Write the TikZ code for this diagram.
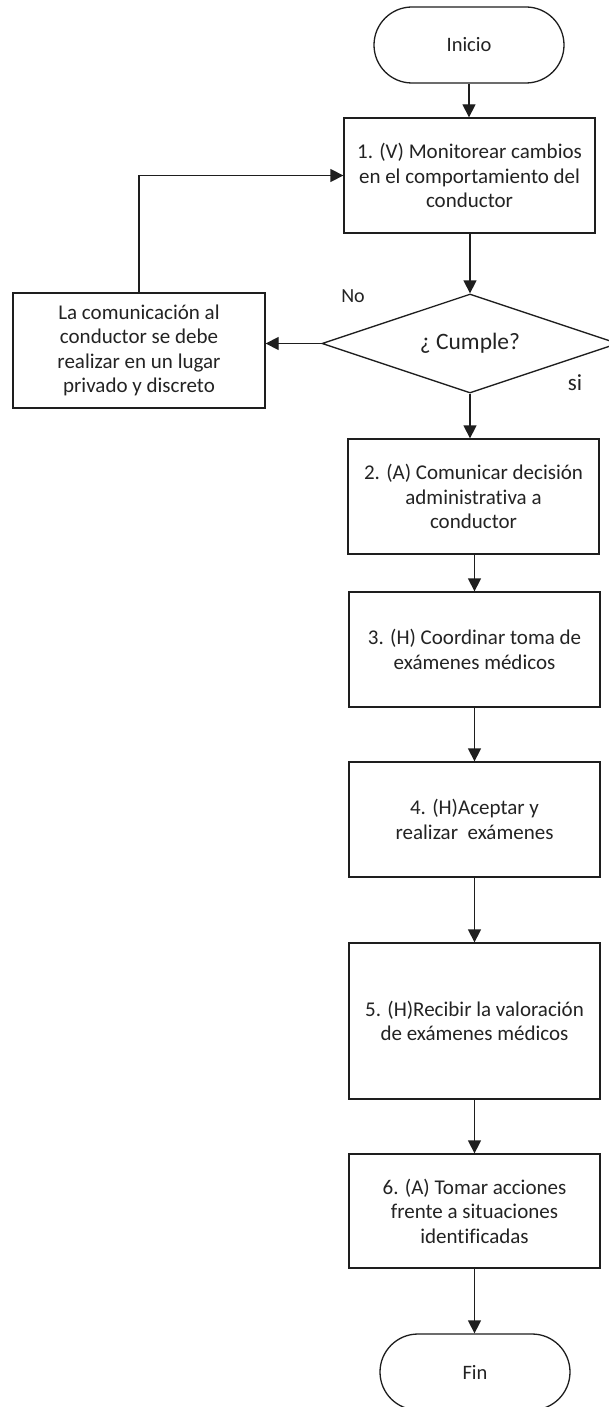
\documentclass[tikz,border=0pt]{standalone}
\usepackage{fontspec}
\setmainfont{Carlito}[Ligatures=NoCommon]
\usetikzlibrary{arrows.meta,shapes.geometric}
\definecolor{ln}{RGB}{30,30,30}
\definecolor{txt}{RGB}{35,35,35}
\begin{document}
\begin{tikzpicture}[x=1pt,y=-1pt,
  every node/.style={text=txt},
  proc/.style={draw=ln, line width=1.3pt, rectangle, minimum width=251pt, minimum height=115pt, align=center, inner sep=0pt, font=\fontsize{21}{24.5}\selectfont},
  term/.style={draw=ln, line width=1.3pt, rectangle, rounded corners=38pt, minimum width=190pt, minimum height=76pt, inner sep=0pt, font=\fontsize{20.5}{24}\selectfont},
  decis/.style={draw=ln, line width=1.3pt, diamond, aspect=3, minimum width=296pt, minimum height=99pt, inner sep=0pt, font=\fontsize{23.5}{27}\selectfont},
  lbl/.style={inner sep=0pt, font=\fontsize{20}{24}\selectfont},
  arr/.style={draw=ln, line width=1.3pt, -{Triangle[length=13pt,width=13pt]}}]
\fill[white] (0,0) rectangle (608,1407);
\useasboundingbox (0,0) rectangle (608,1407);

\node[term] (inicio) at (469,45) {Inicio};
\node[proc] (b1) at (469.5,175.5) {1. (V) Monitorear cambios\\en el comportamiento del\\conductor};
\node[decis] (dec) at (470,343.5) {¿ Cumple?};
\node[proc, minimum width=252pt] (lb) at (139,350.5) {La comunicación al\\conductor se debe\\realizar en un lugar\\privado y discreto};
\node[proc] (b2) at (473.5,496.5) {2. (A) Comunicar decisión\\administrativa a\\conductor};
\node[proc] (b3) at (474.5,649.5) {3. (H) Coordinar toma de\\exámenes médicos};
\node[proc] (b4) at (474.5,819.5) {4. (H)Aceptar y\\realizar\ \ exámenes};
\node[proc, minimum height=156pt] (b5) at (474.5,1021) {5. (H)Recibir la valoración\\de exámenes médicos};
\node[proc, minimum height=114pt] (b6) at (474.5,1211) {6. (A) Tomar acciones\\frente a situaciones\\identificadas};
\node[term] (fin) at (475,1372) {Fin};

\node[lbl] (no) at (353,296) {No};
\node[lbl, font=\fontsize{23}{27}\selectfont] (si) at (575,383) {si};

\draw[arr] (inicio.south) -- (inicio.south |- b1.north);
\draw[arr] (b1.south -| dec.north) -- (dec.north);
\draw[arr] (dec.south) -- (dec.south |- b2.north);
\draw[arr] (dec.west) -- (dec.west -| lb.east);
\draw[arr] (lb.north) |- (b1.west);
\draw[arr] (b3.north |- b2.south) -- (b3.north);
\draw[arr] (b3.south) -- (b4.north);
\draw[arr] (b4.south) -- (b5.north);
\draw[arr] (b5.south) -- (b6.north);
\draw[arr] (b6.south) -- (b6.south |- fin.north);
\end{tikzpicture}
\end{document}
